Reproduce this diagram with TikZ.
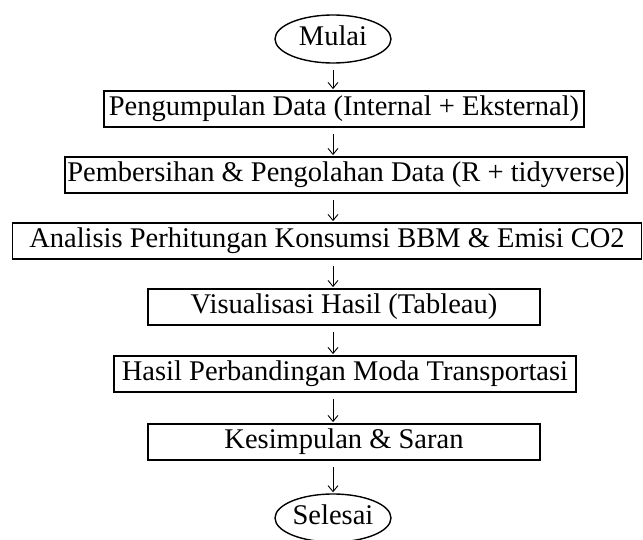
\documentclass[tikz,border=0pt]{standalone}
\usepackage{fontspec}
\setmainfont{Liberation Serif}
\usetikzlibrary{arrows.meta,shapes.geometric}
\begin{document}
\begin{tikzpicture}[x=1pt,y=-1pt,
  every node/.style={font=\fontsize{28.5}{34}\selectfont, inner sep=0pt, text height=19pt, text depth=6pt},
  procbox/.style={draw, line width=1.8pt, minimum height=36pt, align=center},
  term/.style={draw, ellipse, line width=1.4pt, minimum width=116pt, minimum height=48pt},
  arr/.style={-{Straight Barb[length=6pt,width=10pt]}, line width=0.9pt, shorten <=6pt, shorten >=1pt}]
\useasboundingbox (0,0) rectangle (643,540);
\node[term] (mulai) at (333,39) {Mulai};
\node[procbox, minimum width=480pt] (b1) at (344,109) {Pengumpulan Data (Internal + Eksternal)};
\node[procbox, minimum width=562pt] (b2) at (346,175) {Pembersihan \& Pengolahan Data (R + tidyverse)};
\node[procbox, minimum width=629pt] (b3) at (327,241) {Analisis Perhitungan Konsumsi BBM \& Emisi CO2};
\node[procbox, minimum width=392pt] (b4) at (344,307) {Visualisasi Hasil (Tableau)};
\node[procbox, minimum width=462pt] (b5) at (345,374) {Hasil Perbandingan Moda Transportasi};
\node[procbox, minimum width=392pt] (b6) at (344,442) {Kesimpulan \& Saran};
\node[term] (selesai) at (333,518) {Selesai};
\draw[arr] (mulai.south) -- (b1.north -| mulai.south);
\draw[arr] (b1.south -| mulai.south) -- (b2.north -| mulai.south);
\draw[arr] (b2.south -| mulai.south) -- (b3.north -| mulai.south);
\draw[arr] (b3.south -| mulai.south) -- (b4.north -| mulai.south);
\draw[arr] (b4.south -| mulai.south) -- (b5.north -| mulai.south);
\draw[arr] (b5.south -| mulai.south) -- (b6.north -| mulai.south);
\draw[arr] (b6.south -| mulai.south) -- (selesai.north);
\end{tikzpicture}
\end{document}
